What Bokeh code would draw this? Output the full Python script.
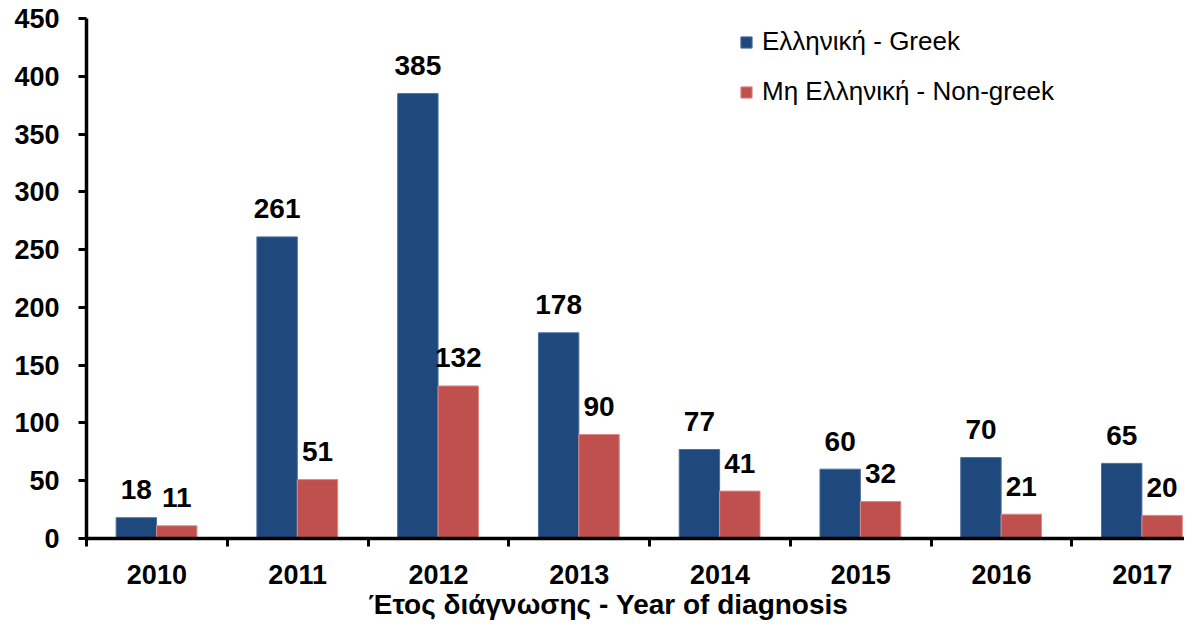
from bokeh.plotting import figure
from bokeh.models import Range1d, FixedTicker, ColumnDataSource, Legend, LegendItem, Title, LinearAxis
from bokeh.core.properties import value
from bokeh.embed import file_html
from bokeh.resources import INLINE

years = ["2010", "2011", "2012", "2013", "2014", "2015", "2016", "2017"]
greek = [18, 261, 385, 178, 77, 60, 70, 65]
non_greek = [11, 51, 132, 90, 41, 32, 21, 20]
y_ticks = [0, 50, 100, 150, 200, 250, 300, 350, 400, 450]
series_names = ["Ελληνική - Greek", "Μη Ελληνική - Non-greek"]
x_title = "Έτος διάγνωσης - Year of diagnosis"

BLUE = "#1F497D"
RED = "#C0504D"
FONT = "Liberation Sans"

n = len(years)
bw = 0.287
xb = [i + 0.354 for i in range(n)]
xr = [i + 0.354 + bw for i in range(n)]

p = figure(width=1184, height=623, output_backend="svg", toolbar_location=None,
           x_range=Range1d(0, 7.80), y_range=Range1d(0, 450),
           min_border_left=86, min_border_right=0, min_border_top=18, min_border_bottom=85,
           x_axis_type=None)
p.outline_line_color = None
p.grid.visible = False
p.background_fill_color = "white"
p.border_fill_color = "white"

src_b = ColumnDataSource(dict(x=xb, top=greek, lab=[str(v) for v in greek]))
src_r = ColumnDataSource(dict(x=xr, top=non_greek, lab=[str(v) for v in non_greek]))

rb = p.vbar(x="x", top="top", width=bw, source=src_b, fill_color=BLUE, line_color="#4a6f9e", line_width=1)
rr = p.vbar(x="x", top="top", width=bw, source=src_r, fill_color=RED, line_color="#d98a88", line_width=1)

for src in (src_b, src_r):
    p.text(x="x", y="top", text="lab", source=src, text_align="center", text_baseline="middle",
           y_offset=-28, text_font=value(FONT), text_font_size="28px", text_font_style="bold",
           text_color="black")

# y axis
ya = p.yaxis[0]
ya.ticker = FixedTicker(ticks=y_ticks)
ya.axis_line_width = 3.5
ya.axis_line_color = "black"
ya.major_tick_line_width = 3
ya.major_tick_out = 8
ya.major_tick_in = 0
ya.minor_tick_line_color = None
ya.major_label_standoff = 19
ya.major_label_text_font = FONT
ya.major_label_text_font_size = "27px"
ya.major_label_text_font_style = "bold"
ya.major_label_text_color = "black"

# x axis
xa = LinearAxis()
xa.ticker = FixedTicker(ticks=[i + 0.5 for i in range(n)], minor_ticks=list(range(n + 1)))
xa.major_label_overrides = {i + 0.5: years[i] for i in range(n)}
xa.axis_line_width = 3.5
xa.axis_line_color = "black"
xa.major_tick_line_color = None
xa.major_tick_out = 0
xa.major_tick_in = 0
xa.minor_tick_line_width = 3
xa.minor_tick_line_color = "black"
xa.minor_tick_out = 8
xa.minor_tick_in = 0
xa.major_label_standoff = 18
xa.major_label_text_font = FONT
xa.major_label_text_font_size = "27px"
xa.major_label_text_font_style = "bold"
xa.major_label_text_color = "black"
p.add_layout(xa, "below")

t = Title(text=x_title, align="left", offset=282, text_font=FONT, text_font_size="28px",
          text_font_style="bold", text_color="black", standoff=0)
p.add_layout(t, "below")

legend = Legend(items=[LegendItem(label=series_names[0], renderers=[rb]),
                       LegendItem(label=series_names[1], renderers=[rr])],
                location=(653, 431), orientation="vertical",
                glyph_width=14, glyph_height=14, label_height=26, spacing=19,
                label_standoff=9, padding=0, margin=0,
                label_text_font=FONT, label_text_font_size="26px", label_text_color="black",
                border_line_color=None, background_fill_alpha=0)
p.add_layout(legend, "center")

open("out.html", "w").write(file_html(p, INLINE))
